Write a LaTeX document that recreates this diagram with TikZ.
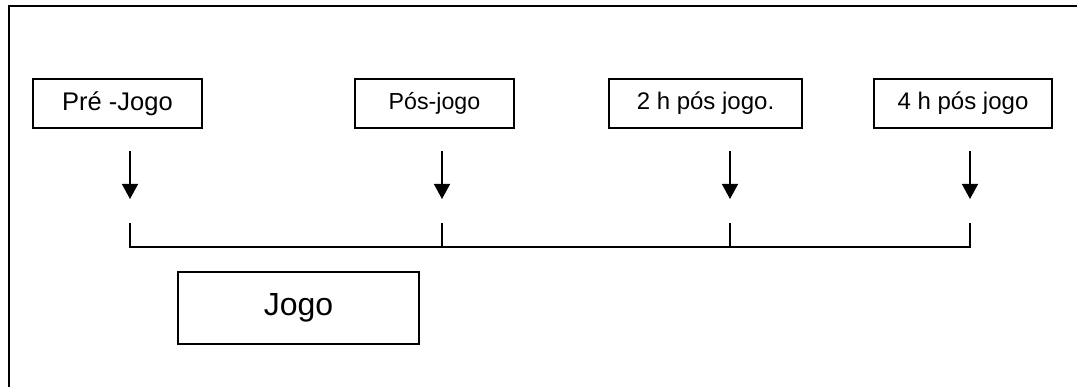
\documentclass[tikz,border=0pt]{standalone}
\usepackage{fontspec}
\setmainfont{Liberation Sans}
\usetikzlibrary{arrows.meta}
\begin{document}
\begin{tikzpicture}[x=1pt,y=-1pt,
  stagebox/.style={draw,line width=1.5pt,minimum height=49pt,inner sep=0pt,
    font=\fontsize{24}{28}\selectfont},
  down/.style={line width=1.5pt,-{Triangle[length=15pt,width=16pt]}},
  tick/.style={line width=1.5pt},
  axis/.style={line width=2.6pt}]
  \useasboundingbox (0,0) rectangle (1077,387);
  % outer frame, running past the page edges on the right and bottom
  \begin{scope}
    \clip (0,0) rectangle (1077,387);
    \draw[line width=2.2pt] (9,6) rectangle (1100,420);
  \end{scope}
  % measurement moments
  \node[stagebox,minimum width=169pt,font=\fontsize{25.5}{30}\selectfont] (pre) at (117.5,103.5) {Pré -Jogo};
  \node[stagebox,minimum width=159pt,font=\fontsize{23.2}{28}\selectfont] (pos) at (434.5,103.5) {Pós-jogo};
  \node[stagebox,minimum width=193pt] (pos2) at (705.5,103.5) {2 h pós jogo.};
  \node[stagebox,minimum width=178pt] (pos4) at (963,103.5) {4 h pós jogo};
  % arrows pointing down to the time line
  \foreach \n/\x in {1/130,2/442,3/730,4/970}{
    \coordinate (s\n) at (\x,151);
    \coordinate (e\n) at (\x,199);
    \coordinate (k\n) at (\x,223);
    \coordinate (t\n) at (\x,247);
    \draw[down] (s\n) -- (e\n);
    \draw[tick] (k\n) -- (t\n);
  }
  % time line
  \draw[axis] ([xshift=-0.75pt]t1) -- ([xshift=0.75pt]t4);
  % game period
  \node[draw,line width=1.5pt,minimum width=241pt,minimum height=72pt,inner sep=0pt,
    font=\fontsize{32}{38}\selectfont] (jogo) at (298.5,308) {Jogo};
\end{tikzpicture}
\end{document}
